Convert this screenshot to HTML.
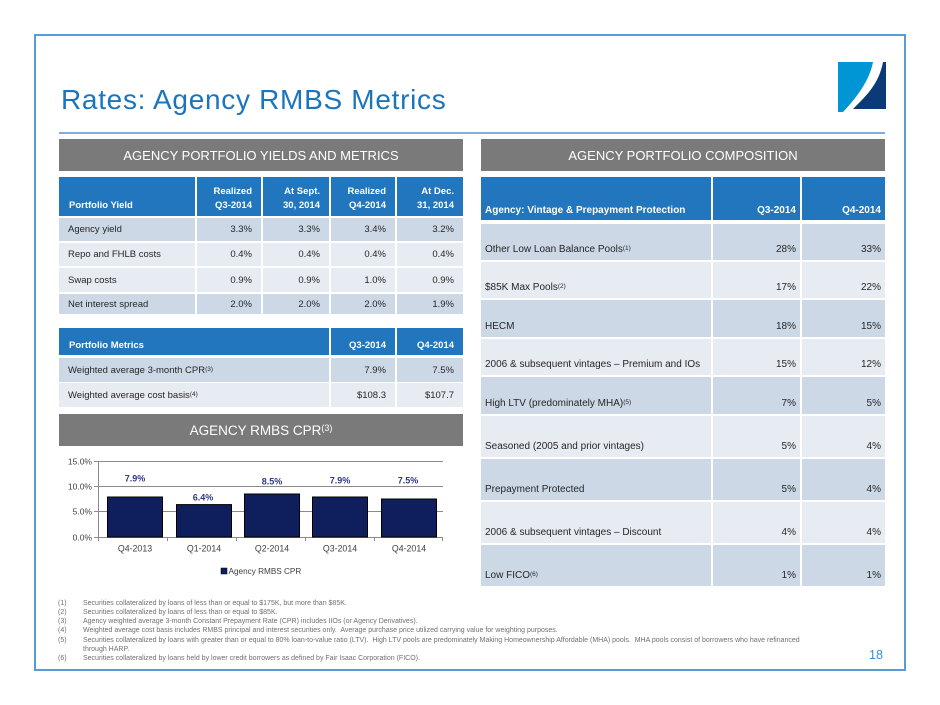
<!DOCTYPE html>
<html><head><meta charset="utf-8">
<style>
*{margin:0;padding:0}
body{width:940px;height:705px;overflow:hidden;background:#fff;position:relative;font-family:"Liberation Sans",sans-serif}
.a{position:absolute}
.frame{position:absolute;left:34px;top:34px;width:868px;height:633px;border:2px solid #5b9bd5}
.title{position:absolute;left:61px;top:83px;font-size:28px;letter-spacing:0.7px;color:#1b75bc;line-height:34px;white-space:nowrap}
.tline{position:absolute;left:59px;top:132px;width:826px;height:2px;background:#7fb0dd}
.gh{position:absolute;background:#7a7a7a;color:#fff;font-size:13px;display:flex;align-items:center;justify-content:center;white-space:nowrap}
.c{position:absolute;box-sizing:border-box;color:#262626;display:flex;align-items:center;white-space:nowrap}
.L{font-size:9.5px;padding:0 9px}
.R{font-size:10px;padding:0 4px 4px 4px;align-items:flex-end;line-height:12px}
.d{background:#cdd8e7}
.l{background:#e7ebf2}
.h{background:#2176bd;color:#fff;font-weight:bold}
.r{justify-content:flex-end;text-align:right}
sup{font-size:6.5px;vertical-align:top;position:relative;top:-1px;font-weight:normal}
.fn{position:absolute;left:0;top:0;font-size:7px;color:#707070;line-height:9.3px;white-space:nowrap}
</style></head><body>
<div class="frame"></div>
<div class="title">Rates: Agency RMBS Metrics</div>
<svg class="a" style="left:0;top:0" width="940" height="705">
<path d="M838,62 H873 C870,78 860,94 843,112 H838 Z" fill="#0096d6"/>
<path d="M883,62 H886 V109 H853 C866,96 879,84 883,62 Z" fill="#0c3a78"/>
</svg>
<div class="tline"></div>

<div class="gh" style="left:59px;top:139px;width:404px;height:32px">AGENCY PORTFOLIO YIELDS AND METRICS</div>
<div class="gh" style="left:481px;top:139px;width:404px;height:32px">AGENCY PORTFOLIO COMPOSITION</div>
<div class="gh" style="left:59px;top:414px;width:404px;height:32px;font-size:13.5px">AGENCY RMBS CPR<sup style="font-size:9px;top:-2px">(3)</sup></div>

<!-- Left table header -->
<div class="c L h" style="left:59px;top:177px;width:136px;height:39px;align-items:flex-end;padding-bottom:5px;padding-left:10px">Portfolio Yield</div>
<div class="c L h r" style="left:197px;top:177px;width:64px;height:39px;align-items:flex-end;padding-bottom:3px;line-height:14px">Realized<br>Q3-2014</div>
<div class="c L h r" style="left:263px;top:177px;width:66px;height:39px;align-items:flex-end;padding-bottom:3px;line-height:14px">At Sept.<br>30, 2014</div>
<div class="c L h r" style="left:331px;top:177px;width:64px;height:39px;align-items:flex-end;padding-bottom:3px;line-height:14px">Realized<br>Q4-2014</div>
<div class="c L h r" style="left:397px;top:177px;width:66px;height:39px;align-items:flex-end;padding-bottom:3px;line-height:14px">At Dec.<br>31, 2014</div>

<!-- rows -->
<div class="c L d" style="left:59px;top:218px;width:136px;height:23px">Agency yield</div>
<div class="c L d r" style="left:197px;top:218px;width:64px;height:23px">3.3%</div>
<div class="c L d r" style="left:263px;top:218px;width:66px;height:23px">3.3%</div>
<div class="c L d r" style="left:331px;top:218px;width:64px;height:23px">3.4%</div>
<div class="c L d r" style="left:397px;top:218px;width:66px;height:23px">3.2%</div>

<div class="c L l" style="left:59px;top:243px;width:136px;height:23px">Repo and FHLB costs</div>
<div class="c L l r" style="left:197px;top:243px;width:64px;height:23px">0.4%</div>
<div class="c L l r" style="left:263px;top:243px;width:66px;height:23px">0.4%</div>
<div class="c L l r" style="left:331px;top:243px;width:64px;height:23px">0.4%</div>
<div class="c L l r" style="left:397px;top:243px;width:66px;height:23px">0.4%</div>

<div class="c L l" style="left:59px;top:268px;width:136px;height:24px">Swap costs</div>
<div class="c L l r" style="left:197px;top:268px;width:64px;height:24px">0.9%</div>
<div class="c L l r" style="left:263px;top:268px;width:66px;height:24px">0.9%</div>
<div class="c L l r" style="left:331px;top:268px;width:64px;height:24px">1.0%</div>
<div class="c L l r" style="left:397px;top:268px;width:66px;height:24px">0.9%</div>

<div class="c L d" style="left:59px;top:294px;width:136px;height:20px">Net interest spread</div>
<div class="c L d r" style="left:197px;top:294px;width:64px;height:20px">2.0%</div>
<div class="c L d r" style="left:263px;top:294px;width:66px;height:20px">2.0%</div>
<div class="c L d r" style="left:331px;top:294px;width:64px;height:20px">2.0%</div>
<div class="c L d r" style="left:397px;top:294px;width:66px;height:20px">1.9%</div>

<!-- metrics -->
<div class="c L h" style="left:59px;top:328px;width:270px;height:27px;align-items:flex-end;padding-bottom:4px;padding-left:10px">Portfolio Metrics</div>
<div class="c L h r" style="left:331px;top:328px;width:64px;height:27px;align-items:flex-end;padding-bottom:4px">Q3-2014</div>
<div class="c L h r" style="left:397px;top:328px;width:66px;height:27px;align-items:flex-end;padding-bottom:4px">Q4-2014</div>

<div class="c L d" style="left:59px;top:358px;width:270px;height:24px">Weighted average 3-month CPR<sup>(3)</sup></div>
<div class="c L d r" style="left:331px;top:358px;width:64px;height:24px">7.9%</div>
<div class="c L d r" style="left:397px;top:358px;width:66px;height:24px">7.5%</div>
<div class="c L l" style="left:59px;top:383px;width:270px;height:24px">Weighted average cost basis<sup>(4)</sup></div>
<div class="c L l r" style="left:331px;top:383px;width:64px;height:24px">$108.3</div>
<div class="c L l r" style="left:397px;top:383px;width:66px;height:24px">$107.7</div>

<!-- Right table -->
<div class="c R h" style="left:481px;top:177px;width:230px;height:43px;padding-bottom:3px">Agency: Vintage &amp; Prepayment Protection</div>
<div class="c R h r" style="left:713px;top:177px;width:87px;height:43px;padding-bottom:3px">Q3-2014</div>
<div class="c R h r" style="left:802px;top:177px;width:83px;height:43px;padding-bottom:3px">Q4-2014</div>

<div class="c R d" style="left:481px;top:224px;width:230px;height:36px">Other Low Loan Balance Pools<sup>(1)</sup></div>
<div class="c R d r" style="left:713px;top:224px;width:87px;height:36px">28%</div>
<div class="c R d r" style="left:802px;top:224px;width:83px;height:36px">33%</div>

<div class="c R l" style="left:481px;top:262px;width:230px;height:36px">$85K Max Pools<sup>(2)</sup></div>
<div class="c R l r" style="left:713px;top:262px;width:87px;height:36px">17%</div>
<div class="c R l r" style="left:802px;top:262px;width:83px;height:36px">22%</div>

<div class="c R d" style="left:481px;top:300px;width:230px;height:37px">HECM</div>
<div class="c R d r" style="left:713px;top:300px;width:87px;height:37px">18%</div>
<div class="c R d r" style="left:802px;top:300px;width:83px;height:37px">15%</div>

<div class="c R l" style="left:481px;top:339px;width:230px;height:36px">2006 &amp; subsequent vintages – Premium and IOs</div>
<div class="c R l r" style="left:713px;top:339px;width:87px;height:36px">15%</div>
<div class="c R l r" style="left:802px;top:339px;width:83px;height:36px">12%</div>

<div class="c R d" style="left:481px;top:377px;width:230px;height:37px">High LTV (predominately MHA)<sup>(5)</sup></div>
<div class="c R d r" style="left:713px;top:377px;width:87px;height:37px">7%</div>
<div class="c R d r" style="left:802px;top:377px;width:83px;height:37px">5%</div>

<div class="c R l" style="left:481px;top:416px;width:230px;height:41px">Seasoned (2005 and prior vintages)</div>
<div class="c R l r" style="left:713px;top:416px;width:87px;height:41px">5%</div>
<div class="c R l r" style="left:802px;top:416px;width:83px;height:41px">4%</div>

<div class="c R d" style="left:481px;top:459px;width:230px;height:41px">Prepayment Protected</div>
<div class="c R d r" style="left:713px;top:459px;width:87px;height:41px">5%</div>
<div class="c R d r" style="left:802px;top:459px;width:83px;height:41px">4%</div>

<div class="c R l" style="left:481px;top:502px;width:230px;height:41px">2006 &amp; subsequent vintages – Discount</div>
<div class="c R l r" style="left:713px;top:502px;width:87px;height:41px">4%</div>
<div class="c R l r" style="left:802px;top:502px;width:83px;height:41px">4%</div>

<div class="c R d" style="left:481px;top:545px;width:230px;height:41px">Low FICO<sup>(6)</sup></div>
<div class="c R d r" style="left:713px;top:545px;width:87px;height:41px">1%</div>
<div class="c R d r" style="left:802px;top:545px;width:83px;height:41px">1%</div>

<!-- Chart -->
<svg class="a" style="left:0;top:0" width="940" height="705" font-family="Liberation Sans, sans-serif">
<g stroke="#8a8a8a" stroke-width="1">
<line x1="98" y1="461.5" x2="443" y2="461.5"/>
<line x1="98" y1="486.5" x2="443" y2="486.5"/>
<line x1="98" y1="511.5" x2="443" y2="511.5"/>
<line x1="94" y1="461.5" x2="98" y2="461.5"/>
<line x1="94" y1="486.5" x2="98" y2="486.5"/>
<line x1="94" y1="511.5" x2="98" y2="511.5"/>
<line x1="94" y1="537.5" x2="98" y2="537.5"/>
<line x1="98.5" y1="461" x2="98.5" y2="538"/>
<line x1="98" y1="537.5" x2="443" y2="537.5"/>
<line x1="98.5" y1="537" x2="98.5" y2="541"/>
<line x1="167.5" y1="537" x2="167.5" y2="541"/>
<line x1="236.5" y1="537" x2="236.5" y2="541"/>
<line x1="305.5" y1="537" x2="305.5" y2="541"/>
<line x1="374.5" y1="537" x2="374.5" y2="541"/>
<line x1="442.5" y1="537" x2="442.5" y2="541"/>
</g>
<g fill="#0f1f5e" stroke="#000" stroke-width="1">
<rect x="107.5" y="497" width="55" height="40"/>
<rect x="176.5" y="504.6" width="55" height="32.4"/>
<rect x="244.5" y="494" width="55" height="43"/>
<rect x="312.5" y="497" width="55" height="40"/>
<rect x="381.5" y="499" width="55" height="38"/>
</g>
<g font-size="8.5" fill="#404040" text-anchor="end">
<text x="92" y="464.5">15.0%</text>
<text x="92" y="489.5">10.0%</text>
<text x="92" y="514.5">5.0%</text>
<text x="92" y="540.5">0.0%</text>
</g>
<g font-size="8.8" fill="#404040" text-anchor="middle">
<text x="135" y="551.5">Q4-2013</text>
<text x="204" y="551.5">Q1-2014</text>
<text x="272" y="551.5">Q2-2014</text>
<text x="340" y="551.5">Q3-2014</text>
<text x="409" y="551.5">Q4-2014</text>
</g>
<g font-size="9" font-weight="bold" fill="#2e3a87" text-anchor="middle">
<text x="135" y="481.5">7.9%</text>
<text x="203" y="500.5">6.4%</text>
<text x="272" y="484.5">8.5%</text>
<text x="340" y="483.5">7.9%</text>
<text x="408" y="483.5">7.5%</text>
</g>
<rect x="221" y="568" width="6" height="6" fill="#0f1f5e" stroke="#000" stroke-width="0.5"/>
<text x="228.5" y="574" font-size="8.2" fill="#404040">Agency RMBS CPR</text>
<text x="869" y="659" font-size="12.6" fill="#3a8fd6">18</text>
</svg>

<!-- Footnotes -->
<div class="fn" style="left:58px;top:598.5px">(1)<br>(2)<br>(3)<br>(4)<br>(5)<br><br>(6)</div>
<div class="fn" style="left:83px;top:598.5px">Securities collateralized by loans of less than or equal to $175K, but more than $85K.<br>Securities collateralized by loans of less than or equal to $85K.<br>Agency weighted average 3-month Constant Prepayment Rate (CPR) includes IIOs (or Agency Derivatives).<br>Weighted average cost basis includes RMBS principal and interest securities only.&nbsp; Average purchase price utilized carrying value for weighting purposes.<br>Securities collateralized by loans with greater than or equal to 80% loan-to-value ratio (LTV).&nbsp; High LTV pools are predominately Making Homeownership Affordable (MHA) pools.&nbsp; MHA pools consist of borrowers who have refinanced<br>through HARP.<br>Securities collateralized by loans held by lower credit borrowers as defined by Fair Isaac Corporation (FICO).</div>
</body></html>
